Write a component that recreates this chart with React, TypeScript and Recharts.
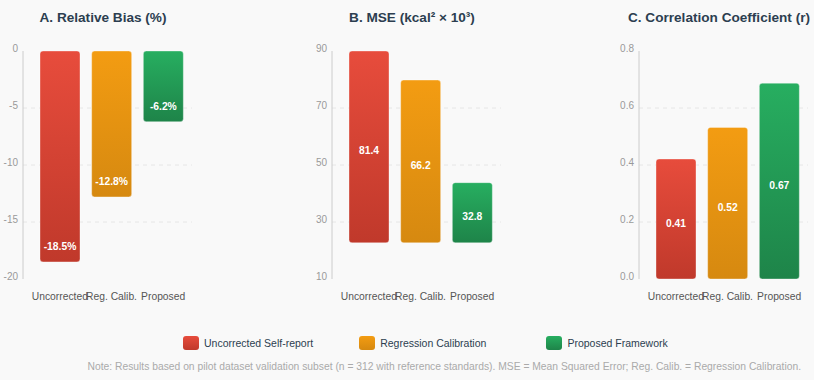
import React from "react";
import {
  BarChart,
  Bar,
  XAxis,
  YAxis,
  CartesianGrid,
  Cell,
  LabelList,
} from "recharts";

const categories = ["Uncorrected", "Reg. Calib.", "Proposed"];
const seriesNames = [
  "Uncorrected Self-report",
  "Regression Calibration",
  "Proposed Framework",
];

// A. relative bias (%)
const biasValues = [-18.5, -12.8, -6.2];
const biasTicks = [0, -5, -10, -15, -20];

// B. MSE: printed values, and the bar extents as drawn in the picture
const mseLabels = [81.4, 66.2, 32.8];
const mseBarBase = [22.7, 22.7, 22.7];
const mseBarTop = [90, 79.8, 43.8];
const mseTicks = [10, 30, 50, 70, 90];

// C. correlation: printed values, and bar heights as drawn
const corrLabels = [0.41, 0.52, 0.67];
const corrBarTop = [0.421, 0.532, 0.687];
const corrTicks = [0, 0.2, 0.4, 0.6, 0.8];

const gradients = [
  { id: "gRed", top: "#e74c3c", bottom: "#c0392b" },
  { id: "gOrange", top: "#f39c12", bottom: "#d68910" },
  { id: "gGreen", top: "#27ae60", bottom: "#1e8449" },
];

const FONT = "'Liberation Sans', Arial, Helvetica, sans-serif";

type Row = { name: string; value: number | number[]; label: string };

const biasData: Row[] = categories.map((name, i) => ({
  name,
  value: biasValues[i],
  label: biasValues[i].toFixed(1) + "%",
}));
const mseData: Row[] = categories.map((name, i) => ({
  name,
  value: [mseBarBase[i], mseBarTop[i]],
  label: mseLabels[i].toFixed(1),
}));
const corrData: Row[] = categories.map((name, i) => ({
  name,
  value: corrBarTop[i],
  label: corrLabels[i].toFixed(2),
}));

const YTick = (props: any) => {
  const { x, y, payload, fmt } = props;
  return (
    <text
      x={x}
      y={y - 3}
      textAnchor="end"
      dominantBaseline="central"
      fill="#999"
      fontSize={10}
    >
      {fmt ? fmt(payload.value) : payload.value}
    </text>
  );
};

const XTick = (props: any) => {
  const { x, y, payload } = props;
  return (
    <text
      x={x}
      y={y + 17}
      textAnchor="middle"
      dominantBaseline="central"
      fill="#555"
      fontSize={10.3}
    >
      {payload.value}
    </text>
  );
};

const makeLabel = (mode: "end" | "center") => (props: any) => {
  const vb = props.viewBox ?? props;
  const { x, y, width, height } = vb;
  const top = Math.min(y, y + height);
  const bottom = Math.max(y, y + height);
  const cy = mode === "end" ? bottom - 15 : (top + bottom) / 2 + 4;
  return (
    <text
      x={x + width / 2}
      y={cy}
      textAnchor="middle"
      dominantBaseline="central"
      fill="#fff"
      fontWeight="bold"
      fontSize={10.3}
    >
      {props.value}
    </text>
  );
};

type PanelProps = {
  title: string;
  left: number;
  data: Row[];
  domain: [number, number];
  ticks: number[];
  fmt?: (v: number) => string;
  labelMode: "end" | "center";
};

const Panel = ({ title, left, data, domain, ticks, fmt, labelMode }: PanelProps) => {
  const inner = ticks.filter((t) => t !== domain[0] && t !== domain[1]);
  return (
    <div style={{ position: "absolute", left, top: 0, width: 206, height: 309 }}>
      <div
        style={{
          position: "absolute",
          top: 9,
          left: 0,
          width: 206,
          textAlign: "center",
          fontSize: 13.6,
          fontWeight: "bold",
          color: "#2c3e50",
          lineHeight: "18px",
          whiteSpace: "nowrap",
        }}
      >
        {title}
      </div>
      <BarChart
        width={200}
        height={309}
        data={data}
        margin={{ top: 51, right: 8, left: 0, bottom: 0 }}
      >
        <CartesianGrid
          vertical={false}
          horizontalValues={inner}
          stroke="#e6e6e6"
          strokeDasharray="4 4"
        />
        <XAxis
          dataKey="name"
          axisLine={false}
          tickLine={false}
          tickSize={0}
          tickMargin={0}
          height={30}
          interval={0}
          padding={{ left: 11, right: 3 }}
          tick={<XTick />}
        />
        <YAxis
          width={23}
          domain={domain}
          ticks={ticks}
          type="number"
          allowDataOverflow
          tickLine={false}
          tickSize={0}
          tickMargin={5}
          axisLine={{ stroke: "#ccc" }}
          tick={<YTick fmt={fmt} />}
        />
        <Bar
          dataKey="value"
          barSize={40}
          radius={3}
          stroke="rgba(255,255,255,0.35)"
          strokeWidth={1}
          isAnimationActive={false}
        >
          {data.map((_, i) => (
            <Cell key={i} fill={`url(#${gradients[i].id})`} />
          ))}
          <LabelList dataKey="label" content={makeLabel(labelMode)} />
        </Bar>
      </BarChart>
    </div>
  );
};

const legendGaps = [46, 60, 0];

const App = () => {
  return (
    <div
      style={{
        position: "absolute",
        left: 0,
        top: 0,
        width: 814,
        height: 380,
        background: "#f9f9f9",
        fontFamily: FONT,
        overflow: "hidden",
      }}
    >
      <svg width={0} height={0} style={{ position: "absolute" }}>
        <defs>
          {gradients.map((g) => (
            <linearGradient key={g.id} id={g.id} x1="0" y1="0" x2="0" y2="1">
              <stop offset="0%" stopColor={g.top} />
              <stop offset="100%" stopColor={g.bottom} />
            </linearGradient>
          ))}
        </defs>
      </svg>

      <Panel
        title="A. Relative Bias (%)"
        left={0}
        data={biasData}
        domain={[-20, 0]}
        ticks={biasTicks}
        labelMode="end"
      />
      <Panel
        title="B. MSE (kcal² × 10³)"
        left={309}
        data={mseData}
        domain={[10, 90]}
        ticks={mseTicks}
        labelMode="center"
      />
      <Panel
        title="C. Correlation Coefficient (r)"
        left={616}
        data={corrData}
        domain={[0, 0.8]}
        ticks={corrTicks}
        fmt={(v) => v.toFixed(1)}
        labelMode="center"
      />

      <div
        style={{
          position: "absolute",
          top: 336,
          left: 183,
          display: "flex",
          alignItems: "center",
          whiteSpace: "nowrap",
        }}
      >
        {seriesNames.map((s, i) => (
          <div
            key={s}
            style={{ display: "flex", alignItems: "center", marginRight: legendGaps[i] }}
          >
            <div
              style={{
                width: 16,
                height: 14,
                borderRadius: 3,
                background: `linear-gradient(${gradients[i].top}, ${gradients[i].bottom})`,
                marginRight: 5,
              }}
            />
            <span style={{ fontSize: 10.5, color: "#2c3e50", lineHeight: "14px" }}>{s}</span>
          </div>
        ))}
      </div>

      <div
        style={{
          position: "absolute",
          top: 360,
          right: 13,
          fontSize: 10.3,
          color: "#aaa",
          whiteSpace: "nowrap",
          lineHeight: "14px",
        }}
      >
        Note: Results based on pilot dataset validation subset (n = 312 with reference
        standards). MSE = Mean Squared Error; Reg. Calib. = Regression Calibration.
      </div>
    </div>
  );
};

export default App;
